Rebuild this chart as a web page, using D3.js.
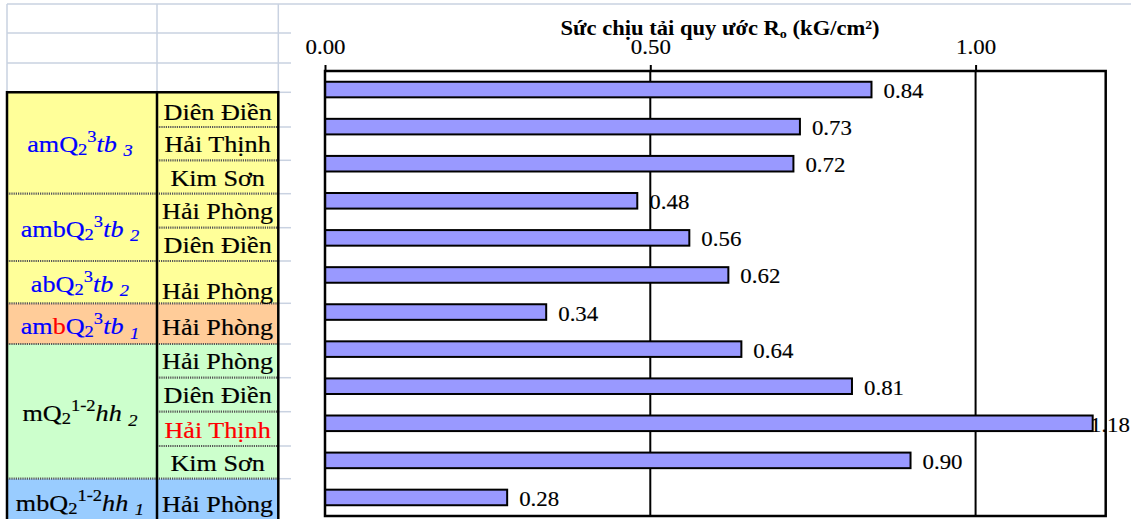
<!DOCTYPE html>
<html><head><meta charset="utf-8">
<script src="https://cdn.jsdelivr.net/npm/d3@7"></script>
<style>
html,body{margin:0;padding:0;background:#fff;}
svg{display:block;}
text{font-family:"Liberation Serif","Times New Roman",serif;}
</style></head>
<body>
<div id="chart"></div>
<script>
// ---------------- DATA ----------------
const sites = ["Diên Điền","Hải Thịnh","Kim Sơn","Hải Phòng","Diên Điền","Hải Phòng","Hải Phòng","Hải Phòng","Diên Điền","Hải Thịnh","Kim Sơn","Hải Phòng"];
const values = [0.84,0.73,0.72,0.48,0.56,0.62,0.34,0.64,0.81,1.18,0.90,0.28];
const siteRed = [false,false,false,false,false,false,false,false,false,true,false,false];
const groupSizes = [3,2,1,1,4,1];
// group labels as rich-text segments: [text, kind, colorKey]
const groupLabels = [
  [["amQ","n"],["2","sub"],["3","sup"],["tb","i"],[" ","i"],["3","isub"]],
  [["ambQ","n"],["2","sub"],["3","sup"],["tb","i"],[" ","i"],["2","isub"]],
  [["abQ","n"],["2","sub"],["3","sup"],["tb","i"],[" ","i"],["2","isub"]],
  [["am","n"],["b","n","red"],["Q","n"],["2","sub"],["3","sup"],["tb","i"],[" ","i"],["1","isub"]],
  [["mQ","n"],["2","sub"],["1-2","sup"],["hh","i"],[" ","i"],["2","isub"]],
  [["mbQ","n"],["2","sub"],["1-2","sup"],["hh","i"],[" ","i"],["1","isub"]]
];
const groupTextColor = ["blue","blue","blue","blue","black","black"];
const groupFill = ["yellow","yellow","yellow","orange","green","lightblue"];
const xTicks = [0, 0.5, 1.0];
const tickLabels = ["0.00","0.50","1.00"];
const xMax = 1.2;
const titleMain = "Sức chịu tải quy ước R";
const titleSub = "o";
const titleEnd = " (kG/cm²)";

// ---------------- LAYOUT / STYLE ----------------
const W = 1131, H = 519, SX = 1.09;
const FONT = "Liberation Serif, Times New Roman, serif";
const colors = {blue:"#0000FF", red:"#FF0000", black:"#000000",
  yellow:"#FFFF99", orange:"#FFCC99", green:"#CCFFCC", lightblue:"#99CCFF"};
const gridGrey = "#C9D2E1";
const tableTop = 92.3;
const rowBottoms = [127,160.3,193.7,227.7,261,303.3,344,377.7,411.7,446,478.7,525];
const siteBaselines = [120,151.7,185.5,219,253.3,299,335,369.3,403.3,438.3,471,511.7];
const groupBaselines = [151.7,236.7,291.7,334,421,511];
const isubShift = [4.5,4.5,4.5,4.5,4.5,3.5];
const colL = 7, colM = 157, colR = 278.3, chartL = 291;
const TXT_STROKE = 0.2;

const svg = d3.select("#chart").append("svg").attr("width",W).attr("height",H);

// helper: horizontally stretched text placed by anchor
function placeText(sel, x, y, anchor){
  const w = sel.node().getComputedTextLength()*SX;
  let tx = x;
  if(anchor==="middle") tx = x - w/2;
  else if(anchor==="end") tx = x - w;
  sel.attr("x",0).attr("y",0).attr("transform",`translate(${tx},${y}) scale(${SX},1)`);
  return w;
}

// ---------- spreadsheet header grid ----------
const grid = svg.append("g");
[4,33,63].forEach(y=>{
  grid.append("line").attr("x1",colL).attr("x2", y===4?W:chartL).attr("y1",y).attr("y2",y)
    .attr("stroke",gridGrey).attr("stroke-width",1.5);
});
[colL, colM, colR].forEach(x=>{
  grid.append("line").attr("x1",x).attr("x2",x).attr("y1",4).attr("y2",tableTop)
    .attr("stroke",gridGrey).attr("stroke-width",1.5);
});
[tableTop].concat(rowBottoms.slice(0,-1)).forEach(y=>{
  grid.append("line").attr("x1",colR).attr("x2",chartL).attr("y1",y).attr("y2",y)
    .attr("stroke",gridGrey).attr("stroke-width",1.5);
});

// ---------- table ----------
const table = svg.append("g");
let r0 = 0;
groupSizes.forEach((n,gi)=>{
  const top = r0===0 ? tableTop : rowBottoms[r0-1];
  const bot = rowBottoms[r0+n-1];
  table.append("rect").attr("x",colL).attr("y",top).attr("width",colR-colL).attr("height",bot-top)
    .attr("fill",colors[groupFill[gi]]);
  r0 += n;
});
// separators
let idx = 0;
groupSizes.forEach((n,gi)=>{
  for(let k=0;k<n;k++){
    const y = rowBottoms[idx];
    if(idx < sites.length-1){
      const isGroupEnd = (k===n-1);
      table.append("line").attr("x1",isGroupEnd?colL:colM).attr("x2",colR).attr("y1",y).attr("y2",y)
        .attr("stroke","#555").attr("stroke-width",2.2).attr("stroke-dasharray","1.2,1");
    }
    idx++;
  }
});
// thick borders
[colL,colM,colR].forEach(x=>{
  table.append("line").attr("x1",x).attr("x2",x).attr("y1",tableTop-1.2).attr("y2",H+2)
    .attr("stroke","#000").attr("stroke-width",2.5);
});
table.append("line").attr("x1",colL).attr("x2",colR).attr("y1",tableTop).attr("y2",tableTop)
  .attr("stroke","#000").attr("stroke-width",2.5);

// site names
sites.forEach((s,i)=>{
  const c = siteRed[i]?colors.red:colors.black;
  const t = table.append("text").text(s).attr("font-family",FONT).attr("font-size",24)
    .attr("fill", c).attr("stroke",c).attr("stroke-width",TXT_STROKE);
  placeText(t,(colM+colR)/2,siteBaselines[i],"middle");
});
// group labels
groupLabels.forEach((segs,gi)=>{
  const base = colors[groupTextColor[gi]];
  const t = table.append("text").attr("font-family",FONT).attr("font-size",24)
    .attr("fill",base).attr("stroke",base).attr("stroke-width",TXT_STROKE);
  let cur = 0;
  segs.forEach(([txt,kind,col])=>{
    let target = 0, fs = 24, it = false;
    if(kind==="sub"){target=3; fs=17;}
    else if(kind==="sup"){target=-10; fs=17;}
    else if(kind==="i"){it=true;}
    else if(kind==="isub"){target=isubShift[gi]; fs=17; it=true;}
    const sp = t.append("tspan").text(txt).attr("font-size",fs).attr("dy",target-cur)
      .style("white-space","pre");
    if(it) sp.attr("font-style","italic");
    if(col) sp.attr("fill",colors[col]).attr("stroke",colors[col]);
    cur = target;
  });
  t.style("white-space","pre");
  placeText(t,80,groupBaselines[gi],"middle");
});

// ---------- chart area ----------
svg.append("rect").attr("x",chartL).attr("y",5).attr("width",W-chartL).attr("height",H-5).attr("fill","#fff");

const plotL = 325, plotR = 1105.7, plotT = 71, plotB = 516;
const x = d3.scaleLinear().domain([0,xMax]).range([plotL,plotR]);
const y = d3.scaleBand().domain(d3.range(values.length)).range([plotT,plotB])
  .paddingInner(0.58).paddingOuter(0.29);

const plot = svg.append("g");
// gridlines
plot.selectAll("line.grid").data(xTicks.filter(d=>d>0)).join("line")
  .attr("x1",d=>x(d)).attr("x2",d=>x(d)).attr("y1",plotT).attr("y2",plotB)
  .attr("stroke","#000").attr("stroke-width",2);

// value labels (drawn under bars & frame)
values.forEach((v,i)=>{
  const t = plot.append("text").text(v.toFixed(2)).attr("font-family",FONT).attr("font-size",21)
    .attr("fill","#000").attr("stroke","#000").attr("stroke-width",0.15);
  const w = t.node().getComputedTextLength()*SX;
  let lx = x(v)+12;
  if(lx + w > W-1) lx = W-1-w;
  t.attr("transform",`translate(${lx},${y(i)+y.bandwidth()/2+8.5}) scale(${SX},1)`);
});

// bars
plot.selectAll("rect.bar").data(values).join("rect").attr("class","bar")
  .attr("x",x(0)).attr("y",(d,i)=>y(i)).attr("width",d=>x(d)-x(0)).attr("height",y.bandwidth())
  .attr("fill","#9999FF").attr("stroke","#000").attr("stroke-width",2);

// frame
plot.append("rect").attr("x",plotL).attr("y",plotT).attr("width",plotR-plotL).attr("height",plotB-plotT)
  .attr("fill","none").attr("stroke","#000").attr("stroke-width",2.5);

// top axis
const axis = svg.append("g").attr("transform",`translate(0,${plotT})`)
  .call(d3.axisTop(x).tickValues(xTicks).tickFormat((d,i)=>tickLabels[i]).tickSize(6).tickPadding(11));
axis.select(".domain").remove();
axis.selectAll(".tick line").attr("stroke","#000").attr("stroke-width",2);
axis.selectAll(".tick text").attr("font-size",21).attr("fill","#000")
  .attr("stroke","#000").attr("stroke-width",0.15)
  .attr("font-family",FONT)
  .attr("transform",`scale(${SX},1)`);

// title
const title = svg.append("text").attr("font-family",FONT).attr("font-size",20.7).attr("font-weight","bold").attr("fill","#000");
title.append("tspan").text(titleMain);
title.append("tspan").text(titleSub).attr("font-size",13).attr("dy",3);
title.append("tspan").text(titleEnd).attr("dy",-3).style("white-space","pre");
placeText(title,720,35,"middle");
</script>
</body></html>
